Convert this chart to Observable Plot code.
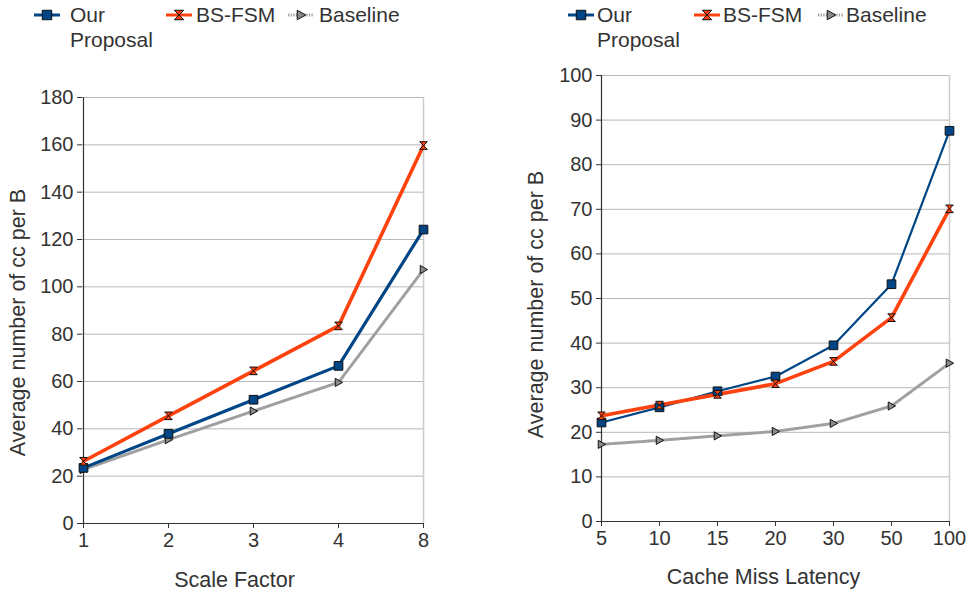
<!DOCTYPE html>
<html><head><meta charset="utf-8">
<script src="https://cdn.jsdelivr.net/npm/d3@7"></script>
<script src="https://cdn.jsdelivr.net/npm/@observablehq/plot@0.6"></script>
<style>
body{margin:0;background:#fff;font-family:"Liberation Sans",Arial,sans-serif;}
#wrap{position:relative;width:970px;height:593px;overflow:hidden;}
.panel{position:absolute;top:0;width:485px;height:593px;}
.legend{position:relative;height:58px;}
.sw{position:absolute;top:4px;}
.lab{position:absolute;top:2px;font-size:21px;line-height:25px;color:#333;}
</style>
</head><body>
<div id="wrap">
  <div class="panel" id="p1" style="left:0"></div>
  <div class="panel" id="p2" style="left:485px"></div>
</div>
<script>
// ---- data ----
const seriesNames = ["Our Proposal", "BS-FSM", "Baseline"];
const scaleFactors = ["1", "2", "3", "4", "8"];
const ourProposalScale = [23.5, 37.9, 52.3, 66.6, 124.2];
const bsfsmScale = [26.3, 45.5, 64.5, 83.5, 159.7];
const baselineScale = [22.8, 35.4, 47.5, 59.6, 107.3];
const scaleTicks = [0, 20, 40, 60, 80, 100, 120, 140, 160, 180];

const latencies = ["5", "10", "15", "20", "30", "50", "100"];
const ourProposalLatency = [22.2, 25.6, 29.2, 32.5, 39.5, 53.2, 87.6];
const bsfsmLatency = [23.7, 26.1, 28.5, 30.9, 35.9, 45.7, 70.1];
const baselineLatency = [17.3, 18.2, 19.2, 20.2, 22.0, 25.9, 35.5];
const latencyTicks = [0, 10, 20, 30, 40, 50, 60, 70, 80, 90, 100];

// ---- symbols ----
const hourglass = {draw(ctx, size) {
  const s = Math.sqrt(size) / 2;
  ctx.moveTo(-s, -s); ctx.lineTo(s, -s); ctx.lineTo(-s, s); ctx.lineTo(s, s); ctx.closePath();
}};
const triRight = {draw(ctx, size) {
  const s = Math.sqrt(size) / 2;
  ctx.moveTo(-s * 0.8, -s); ctx.lineTo(s, 0); ctx.lineTo(-s * 0.8, s); ctx.closePath();
}};

const FONT = '"Liberation Sans", Arial, sans-serif';
const styles = [
  {color: "#004586", sym: d3.symbolSquare, fill: "#004586", r: 4.9, dash: null},
  {color: "#ff420e", sym: hourglass, fill: "#ff420e", r: 4.3, dash: null},
  {color: "#a0a0a0", sym: triRight, fill: "#8a8a8a", r: 4.6, dash: "1.3,1.3"}
];

function legend(el, pos) {
  const lg = document.createElement("div");
  lg.className = "legend";
  styles.forEach((st, i) => {
    const [sx, tx] = pos[i];
    const svg = d3.create("svg").attr("class", "sw").attr("width", 28).attr("height", 22)
      .style("left", sx + "px");
    svg.append("line").attr("x1", 0).attr("x2", 26).attr("y1", 11).attr("y2", 11)
      .attr("stroke", st.color).attr("stroke-width", 3)
      .attr("stroke-dasharray", st.dash);
    svg.append("path").attr("transform", "translate(13,11)")
      .attr("d", d3.symbol(st.sym, 90)())
      .attr("fill", st.fill).attr("stroke", "#111").attr("stroke-width", 1);
    lg.appendChild(svg.node());
    const t = document.createElement("div");
    t.className = "lab"; t.style.left = tx + "px";
    t.innerHTML = i === 0 ? "Our<br>Proposal" : seriesNames[i];
    lg.appendChild(t);
  });
  el.appendChild(lg);
}

function shiftGroup(sel, dx, dy) {
  sel.each(function() {
    const g = d3.select(this);
    const t = g.attr("transform") || "";
    g.attr("transform", `translate(${dx},${dy}) ${t}`).attr("font-size", 21.5);
  });
}

function chart(el, cats, vals, ticks, opts) {
  const rows = [];
  vals.forEach((arr, si) => arr.forEach((v, j) => rows.push({s: si, x: cats[j], y: v})));
  const marks = [
    Plot.gridY(ticks, {stroke: "#b8b8b8", strokeOpacity: 1}),
    Plot.ruleX([cats[cats.length - 1]], {stroke: "#cccccc", strokeWidth: 1.5}),
    Plot.axisY(ticks, {tickSize: 5, tickPadding: 4, label: opts.ylabel, labelAnchor: "center",
      labelArrow: "none", labelOffset: opts.yLabelOffset, fontSize: 20}),
    Plot.axisX({tickSize: 5, tickPadding: 4, label: opts.xlabel, labelAnchor: "center",
      labelArrow: "none", labelOffset: opts.xLabelOffset, fontSize: 20}),
    Plot.ruleX([cats[0]], {stroke: "#333", strokeWidth: 1.2}),
    Plot.ruleY([0], {stroke: "#333", strokeWidth: 1.2})
  ];
  [2, 0, 1].forEach(si => {
    const st = styles[si];
    const d = rows.filter(r => r.s === si);
    marks.push(Plot.line(d, {x: "x", y: "y", stroke: st.color, strokeWidth: opts.widths[si],
      strokeDasharray: st.dash, strokeLinejoin: "miter"}));
  });
  [2, 0, 1].forEach(si => {
    const st = styles[si];
    const d = rows.filter(r => r.s === si);
    marks.push(Plot.dot(d, {x: "x", y: "y", symbol: st.sym, r: st.r, fill: st.fill,
      stroke: "#111", strokeWidth: 1}));
  });
  const p = Plot.plot({
    width: 485, height: 535,
    marginLeft: opts.ml, marginRight: opts.mr, marginTop: opts.mt, marginBottom: opts.mb,
    x: {type: "point", domain: cats, padding: 0},
    y: {domain: [0, ticks[ticks.length - 1]]},
    style: {fontFamily: FONT, fontSize: "20px", color: "#333", background: "#fff"},
    marks
  });
  const sp = d3.select(p);
  shiftGroup(sp.selectAll('g[aria-label="y-axis label"]'), 0, opts.yShift);
  shiftGroup(sp.selectAll('g[aria-label="x-axis label"]'), opts.xShift, -1);
  el.appendChild(p);
}

const p1 = document.getElementById("p1");
legend(p1, [[34, 70], [166, 196], [288, 319]]);
chart(p1, scaleFactors, [ourProposalScale, bsfsmScale, baselineScale], scaleTicks,
  {ml: 82, mr: 61, mt: 39, mb: 70, xlabel: "Scale Factor", ylabel: "Average number of cc per B",
   yLabelOffset: 73, xLabelOffset: 64, widths: [3.2, 3.6, 3], xShift: -19, yShift: 12});

const p2 = document.getElementById("p2");
legend(p2, [[83, 112], [209, 238], [333, 361]]);
chart(p2, latencies, [ourProposalLatency, bsfsmLatency, baselineLatency], latencyTicks,
  {ml: 116, mr: 21, mt: 17, mb: 72, xlabel: "Cache Miss Latency", ylabel: "Average number of cc per B",
   yLabelOffset: 74, xLabelOffset: 63, widths: [2.2, 3.6, 3], xShift: -12, yShift: 6});
</script>
</body></html>
